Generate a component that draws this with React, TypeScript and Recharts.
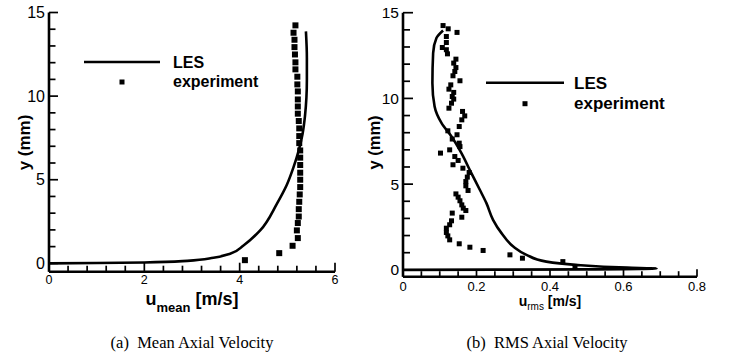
import { ComposedChart, Line, Scatter, XAxis, YAxis, Legend, ReferenceLine } from "recharts";

// (a) mean axial velocity, u in m/s, y in mm
const lesMeanU = [0, 1.0, 2.0, 2.9, 3.45, 3.8, 4.08, 4.43, 4.78, 4.99, 5.13, 5.24, 5.32, 5.37, 5.4, 5.41, 5.41, 5.39];
const lesMeanY = [0, 0.02, 0.05, 0.15, 0.33, 0.57, 1.07, 1.97, 3.56, 4.7, 5.75, 6.75, 7.75, 8.8, 9.9, 11.0, 12.3, 13.87];

const expMeanU = [4.11, 4.83, 5.11, 5.22, 5.2, 5.22, 5.24, 5.24, 5.25, 5.26, 5.27, 5.27, 5.27, 5.27, 5.27, 5.27, 5.25, 5.25, 5.25, 5.24, 5.22, 5.22, 5.22, 5.22, 5.21, 5.21, 5.17, 5.17, 5.16, 5.15, 5.15, 5.13, 5.17];
const expMeanY = [0.19, 0.61, 1.05, 1.51, 1.97, 2.41, 2.8, 3.24, 3.68, 4.12, 4.56, 5.0, 5.42, 5.88, 6.32, 6.75, 7.19, 7.61, 8.07, 8.51, 8.95, 9.38, 9.8, 10.28, 10.7, 11.16, 11.6, 12.02, 12.49, 12.93, 13.37, 13.79, 14.23];

// (b) rms axial velocity
const lesRmsU = [0, 0.25, 0.5, 0.69, 0.61, 0.47, 0.39, 0.336, 0.3, 0.268, 0.245, 0.227, 0.209, 0.186, 0.159, 0.132, 0.105, 0.086, 0.08, 0.082, 0.091, 0.109];
const lesRmsY = [0, 0.01, 0.03, 0.08, 0.13, 0.29, 0.48, 0.875, 1.36, 2.14, 2.92, 3.89, 4.67, 5.64, 6.81, 7.78, 8.56, 9.53, 10.89, 12.64, 13.52, 13.96];

const expRmsU = [0.468, 0.435, 0.325, 0.291, 0.218, 0.182, 0.153, 0.127, 0.122, 0.118, 0.118, 0.127, 0.132, 0.16, 0.134, 0.171, 0.164, 0.16, 0.155, 0.15, 0.144, 0.177, 0.171, 0.171, 0.175, 0.18, 0.163, 0.136, 0.15, 0.141, 0.102, 0.127, 0.155, 0.153, 0.134, 0.147, 0.122, 0.153, 0.16, 0.168, 0.162, 0.125, 0.132, 0.138, 0.134, 0.138, 0.125, 0.13, 0.155, 0.136, 0.141, 0.144, 0.138, 0.144, 0.121, 0.118, 0.107, 0.118, 0.118, 0.147, 0.123, 0.109];
const expRmsY = [0.19, 0.48, 0.68, 0.875, 1.13, 1.32, 1.52, 1.75, 1.98, 2.18, 2.43, 2.63, 2.86, 3.07, 3.31, 3.46, 3.6, 3.79, 4.03, 4.24, 4.43, 4.63, 4.9, 5.15, 5.41, 5.68, 5.93, 6.13, 6.38, 6.61, 6.81, 7.0, 7.19, 7.39, 7.63, 7.88, 8.11, 8.36, 8.75, 8.98, 9.24, 9.43, 9.72, 9.96, 10.11, 10.35, 10.54, 10.79, 11.03, 11.32, 11.57, 11.8, 12.06, 12.29, 12.6, 12.84, 12.97, 13.26, 13.61, 13.85, 14.06, 14.25];

const yTicks = [0, 1, 2, 3, 4, 5, 6, 7, 8, 9, 10, 11, 12, 13, 14, 15];
const yLabels = [0, 5, 10, 15];
const meanTicks = [0, 0.4, 0.8, 1.2, 1.6, 2, 2.4, 2.8, 3.2, 3.6, 4, 4.4, 4.8, 5.2, 5.6, 6];
const meanLabels = [0, 2, 4, 6];
const rmsTicks = [0, 0.05, 0.1, 0.15, 0.2, 0.25, 0.3, 0.35, 0.4, 0.45, 0.5, 0.55, 0.6, 0.65, 0.7, 0.75, 0.8];
const rmsLabels = [0, 0.2, 0.4, 0.6, 0.8];

const meanXDomain = [0, 6];
const meanYDomain = [-0.5, 15];
const rmsXDomain = [0, 0.8];
const rmsYDomain = [-0.4, 15];

const zip = (xs: number[], ys: number[]) => xs.map((x, i) => ({ x, y: ys[i] }));
const isIn = (list: number[], v: number) => list.some((l) => Math.abs(l - v) < 1e-6);

const SANS = "'Liberation Sans', Arial, Helvetica, sans-serif";
const SERIF = "'Liberation Serif', 'Times New Roman', serif";
const FRAME = { stroke: "#000", strokeWidth: 2.6 };

const makeYTick = (fontSize: number) => (props: any) => {
    const { x, y, payload } = props;
    if (!isIn(yLabels, payload.value)) return <g />;
    return (
        <text x={x - 4} y={y} dy="0.36em" textAnchor="end" fontSize={fontSize} fontFamily={SANS} fill="#000">
            {payload.value}
        </text>
    );
};

const makeXTick = (labels: number[], fontSize: number, baseline: number) => (props: any) => {
    const { x, y, payload } = props;
    if (!isIn(labels, payload.value)) return <g />;
    return (
        <text x={x} y={y + baseline} textAnchor="middle" fontSize={fontSize} fontFamily={SANS} fill="#000">
            {payload.value}
        </text>
    );
};

// inward tick marks as short segments; lengths in px turned into data units
type Frame = { xd: number[]; yd: number[]; w: number; h: number };
const tickMarks = (f: Frame, xt: number[], xl: number[], yt: number[], yl: number[], xLen: number[], yLen: number[]) => {
    const ux = (f.xd[1] - f.xd[0]) / f.w;
    const uy = (f.yd[1] - f.yd[0]) / f.h;
    const marks: any[] = [];
    yt.forEach((t) => {
        const len = (isIn(yl, t) ? yLen[0] : yLen[1]) * ux;
        marks.push(
            <ReferenceLine
                key={"y" + t}
                segment={[{ x: f.xd[0], y: t }, { x: f.xd[0] + len, y: t }]}
                stroke="#000"
                strokeWidth={1.7}
                ifOverflow="visible"
                zIndex={1500}
            />
        );
    });
    xt.forEach((t) => {
        const len = (isIn(xl, t) ? xLen[0] : xLen[1]) * uy;
        marks.push(
            <ReferenceLine
                key={"x" + t}
                segment={[{ x: t, y: f.yd[0] }, { x: t, y: f.yd[0] + len }]}
                stroke="#000"
                strokeWidth={1.7}
                ifOverflow="visible"
                zIndex={1500}
            />
        );
    });
    return marks;
};

const meanFrame: Frame = { xd: meanXDomain, yd: meanYDomain, w: 286, h: 259.2 };
const rmsFrame: Frame = { xd: rmsXDomain, yd: rmsYDomain, w: 294, h: 264 };

const Square = (size: number) => (props: any) => (
    <rect x={props.cx - size / 2} y={props.cy - size / 2} width={size} height={size} fill="#000" />
);

const makeLegend = (lineFrom: number, lineTo: number, textX: number, sqX: number, rowY: number, gap: number, fontSize: number) => () => (
    <svg width={240} height={120} style={{ overflow: "visible" }}>
        <line x1={lineFrom} x2={lineTo} y1={rowY} y2={rowY} stroke="#000" strokeWidth={2.5} />
        <text x={textX} y={rowY + 6} fontSize={fontSize} fontWeight="bold" fontFamily={SANS}>LES</text>
        <rect x={sqX - 2.5} y={rowY + gap - 2.5} width={5} height={5} fill="#000" />
        <text x={textX} y={rowY + gap + 5} fontSize={fontSize} fontWeight="bold" fontFamily={SANS}>experiment</text>
    </svg>
);

// plain frame lines for the top and right edges
const FrameAxes = (domainX: number[], domainY: number[]) => [
    <XAxis key="top" xAxisId="top" orientation="top" type="number" domain={domainX} height={0} tick={false} tickLine={false} axisLine={FRAME} allowDataOverflow />,
    <YAxis key="right" yAxisId="right" orientation="right" type="number" domain={domainY} width={0} tick={false} tickLine={false} axisLine={FRAME} allowDataOverflow />,
];

export default function App() {
    return (
        <div style={{ position: "absolute", left: 0, top: 0, width: 730, height: 356, background: "#fff" }}>
            <div style={{ position: "absolute", left: 0, top: 0 }}>
                <ComposedChart width={360} height={320} margin={{ top: 12.5, right: 25, bottom: 18.3, left: 0 }}>
                    <XAxis
                        type="number"
                        dataKey="x"
                        domain={meanXDomain}
                        ticks={meanTicks}
                        interval={0}
                        height={30}
                        axisLine={FRAME}
                        tickLine={false}
                        tickSize={0}
                        tickMargin={0}
                        tick={makeXTick(meanLabels, 12.5, 11.8)}
                    />
                    <YAxis
                        type="number"
                        dataKey="y"
                        domain={meanYDomain}
                        ticks={yTicks}
                        interval={0}
                        width={49}
                        axisLine={FRAME}
                        tickLine={false}
                        tickSize={0}
                        tickMargin={0}
                        tick={makeYTick(16)}
                    />
                    {FrameAxes(meanXDomain, meanYDomain)}
                    <Line
                        data={zip(lesMeanU, lesMeanY)}
                        dataKey="y"
                        type="monotoneY"
                        stroke="#000"
                        strokeWidth={2.6}
                        dot={false}
                        activeDot={false}
                        isAnimationActive={false}
                    />
                    <Scatter data={zip(expMeanU, expMeanY)} dataKey="y" fill="#000" shape={Square(6)} isAnimationActive={false} />
                    {tickMarks(meanFrame, meanTicks, meanLabels, yTicks, yLabels, [9, 6], [9, 6.5])}
                    <Legend
                        layout="vertical"
                        align="center"
                        verticalAlign="middle"
                        wrapperStyle={{ position: "absolute", left: 0, top: 0, width: 240, height: 120 }}
                        content={makeLegend(84, 160, 173, 122, 62, 20, 16)}
                    />
                </ComposedChart>
            </div>
            <div style={{ position: "absolute", left: 360, top: 0 }}>
                <ComposedChart width={370} height={320} margin={{ top: 12.7, right: 33, bottom: 13.3, left: 0 }}>
                    <XAxis
                        type="number"
                        dataKey="x"
                        domain={rmsXDomain}
                        ticks={rmsTicks}
                        interval={0}
                        height={30}
                        axisLine={FRAME}
                        tickLine={false}
                        tickSize={0}
                        tickMargin={0}
                        tick={makeXTick(rmsLabels, 13, 14)}
                    />
                    <YAxis
                        type="number"
                        dataKey="y"
                        domain={rmsYDomain}
                        ticks={yTicks}
                        interval={0}
                        width={43}
                        axisLine={FRAME}
                        tickLine={false}
                        tickSize={0}
                        tickMargin={0}
                        tick={makeYTick(15.5)}
                    />
                    {FrameAxes(rmsXDomain, rmsYDomain)}
                    <Line
                        data={zip(lesRmsU, lesRmsY)}
                        dataKey="y"
                        type="monotoneY"
                        stroke="#000"
                        strokeWidth={2.6}
                        dot={false}
                        activeDot={false}
                        isAnimationActive={false}
                    />
                    <Scatter data={zip(expRmsU, expRmsY)} dataKey="y" fill="#000" shape={Square(5)} isAnimationActive={false} />
                    {tickMarks(rmsFrame, rmsTicks, rmsLabels, yTicks, yLabels, [7.5, 5.5], [10, 7])}
                    <Legend
                        layout="vertical"
                        align="center"
                        verticalAlign="middle"
                        wrapperStyle={{ position: "absolute", left: 0, top: 0, width: 240, height: 120 }}
                        content={makeLegend(126, 204, 214, 165, 82.7, 21, 17)}
                    />
                </ComposedChart>
            </div>
            <svg width={730} height={356} style={{ position: "absolute", left: 0, top: 0, pointerEvents: "none" }}>
                <text transform="translate(29.5,142.5) rotate(-90)" textAnchor="middle" fontSize={17} fontWeight="bold" fontFamily={SANS}>
                    y (mm)
                </text>
                <text transform="translate(380,142.5) rotate(-90)" textAnchor="middle" fontSize={16.5} fontWeight="bold" fontFamily={SANS}>
                    y (mm)
                </text>
                <text x={192} y={305} textAnchor="middle" fontWeight="bold" fontFamily={SANS} fontSize={18}>
                    u<tspan fontSize={13} dy={6.5}>mean</tspan>
                    <tspan dy={-6.5}> [m/s]</tspan>
                </text>
                <text x={550} y={305.5} textAnchor="middle" fontWeight="bold" fontFamily={SANS} fontSize={14}>
                    u<tspan fontSize={10} fontWeight="normal" dy={4.5}>rms</tspan>
                    <tspan dy={-4.5}> [m/s]</tspan>
                </text>
                <text x={192} y={348} textAnchor="middle" fontFamily={SERIF} fontSize={16.5} xmlSpace="preserve">
                    (a)  Mean Axial Velocity
                </text>
                <text x={547} y={348} textAnchor="middle" fontFamily={SERIF} fontSize={16.5} xmlSpace="preserve">
                    (b)  RMS Axial Velocity
                </text>
            </svg>
        </div>
    );
}
